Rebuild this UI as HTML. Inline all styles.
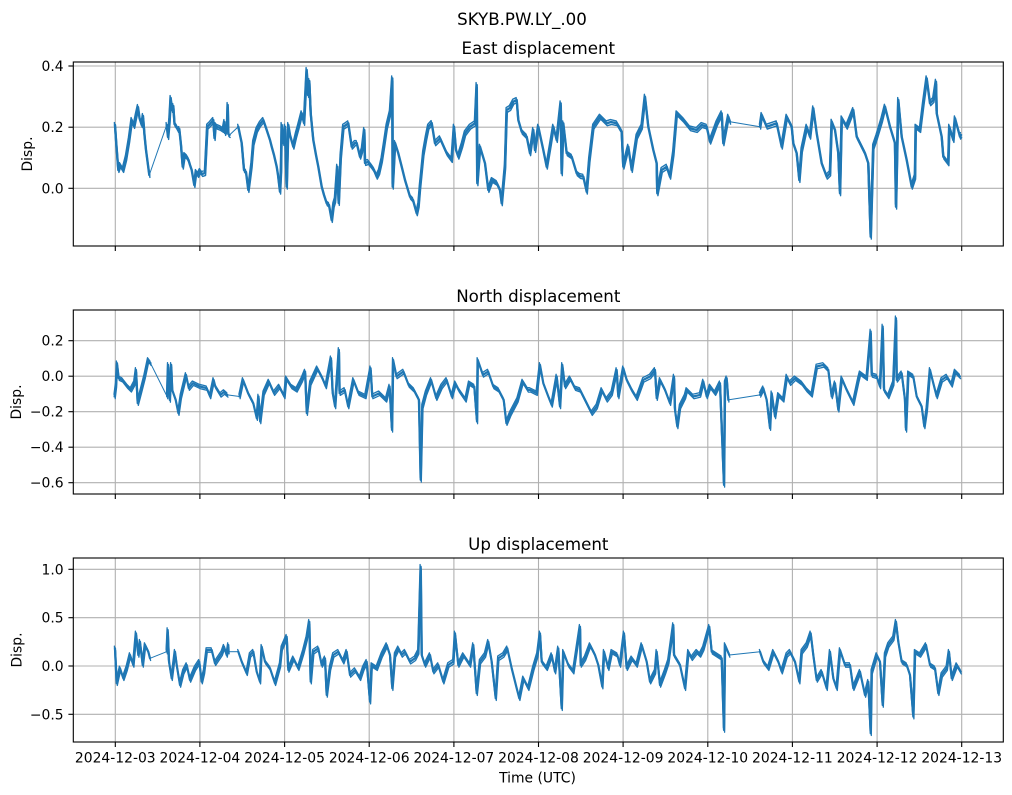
<!DOCTYPE html>
<html>
<head>
<meta charset="utf-8">
<style>
html,body{margin:0;padding:0;background:#fff;}
svg{display:block;}
text{font-family:"DejaVu Sans","Liberation Sans",sans-serif;fill:#000;}
.tk{font-size:13.9px;}
.ttl{font-size:16.67px;}
.grid line{stroke:#b0b0b0;stroke-width:1.1;}
.sp{fill:none;stroke:#000;stroke-width:1.1;}
.tick line{stroke:#000;stroke-width:1.1;}
.g{fill:none;stroke:#1f77b4;stroke-width:1;}
</style>
</head>
<body>
<svg width="1012" height="795" viewBox="0 0 1012 795" xmlns="http://www.w3.org/2000/svg" xmlns:xlink="http://www.w3.org/1999/xlink">
<defs>
<g id="n1" fill="none" stroke-linejoin="round" stroke-linecap="round">
<polyline points="115,125 116,140 118.3,170 120,165 123,170 126,158 129,140 131.7,120 134,126 136,116 138,107 139.5,118 141.7,125 143,116 144.5,135 146,150 149.3,175"/>
<polyline points="166.7,125 168,137 169.5,120 170.7,98 172,110 173.3,106 174.5,124 176.7,127 178,130 179.3,129 181,145 182.7,166.7 184.5,155 186.7,157 188.5,160 190,165 191.7,170 194.3,185 196,172 198,175 200,171 202,174 205,173 207.3,126.7 210,124 213.3,120 214.5,138 215.5,125 216.7,126.7 220,128 223,130 224.5,122 225,133 227,128 227.7,105 228.3,134 229.5,135"/>
<polyline points="238.3,126.7 240,135 241.7,143 244,170 246,172 248.3,190 250,177 251.5,165 253.3,143 256.7,130 260,124 263.3,120 266.7,130 270,140 271.7,146.7 274,155 276.7,166.7 278,175 280,191.7 281,170 281.7,125 283.3,143 285,126.7 286.7,186.7 288.3,125 290,135 293.3,146.7 296,135 298.3,126.7 301.7,113.3 304,123 306.7,70 308,95 309.3,81 310.7,113.3 313.3,140 316,155 318.3,166.7 321.7,186.7 324,195 326.7,203.3 329,205 331.7,220 333.5,205 335,200 337.3,166.7 338.7,203 340.7,156.7 343.3,126.7 346,125 348.3,123.3 351.7,146.7 355,143 356.7,143 360,156.7 362,150 364.3,130 365,163 368,162 371.7,166.7 374,170 376.7,176.7 379,172 381.7,160 384,145 386.7,126.7 390,113 392.3,78.3 392.7,186.7 395,143 398.3,153.3 401.7,166.7 405,180 410,196.7 413,200 416.7,213.3 418.5,205 420,186.7 423.3,153.3 426,138 428.3,126.7 431.7,123 435,143.3 440,138.3 443,145 446.7,153.3 451.7,160 454,126.7 456,150 458.3,156.7 462,145 465,133.3 470,126.7 475,123.3 476.7,85 477.3,183.3 480,146.7 485,163.3 488.3,190 492,180 496.7,183 500,190 501.7,203.3 505,166.7 506.7,110 510,108 513.3,101.7 516.7,100 518.3,120 521.7,131.7 526.7,136.7 530,153.3 533.3,130 535,150 538.3,126.7 543.3,150 546.7,166.7 550,147 553.3,126.7 556.7,140 560.7,103.3 561.7,173.3 563.3,123.3 566.7,153.3 571.7,156.7 576.7,173.3 580,176 583.3,176.7 586.7,191.7 589.3,160 593.3,126.7 600,116.7 606.7,123.3 611,122 616.7,123.3 621.7,131.7 623.3,166.7 628.3,146.7 631.7,170 636.7,136.7 641.7,126.7 645,96.7 648.3,126.7 653.3,150 656.7,163.3 657.3,193.3 661.7,170 666.7,166.7 670,176.7 673.3,153.3 676.7,113.3 683.3,120 690,128.3 696.7,130 701.7,125 706.7,126.7 710,141.7 716.7,123.3 721.7,113.3 723.3,143.3 728.3,116.7 730,121.7"/>
<polyline points="760,126.7 761.7,115 766.7,126.7 776.7,123.3 781.7,146.7 786.7,116.7 791.7,126.7 793.3,143.3 796.7,153.3 799.3,180 801.7,150 806.7,126.7 810,136.7 813.3,108.3 816.7,133.3 821.7,163.3 826.7,176.7 830,173.3 831.7,121.7 835,130 838.3,153.3 840,193.3 841.7,118.3 846.7,126.7 853.3,110 856.7,136.7 861.7,146.7 865,153.3 868.3,163.3 870.7,236.7 873.3,146.7 876.7,136.7 881.7,120 885,106.7 890,126.7 895,143.3 896,206.7 898.3,100 901.7,136.7 906.7,160 911.7,186.7 915,176.7 915.7,126.7 920,130 923.3,103.3 926.7,78.3 930,103.3 933.3,100 936,81.7 936.7,113.3 941.7,136.7 943.3,156.7 948.3,163.3 949.3,126.7 953.3,140 955,118.3 960,136.7 961,135"/>
</g>
<g id="n2" fill="none" stroke-linejoin="round" stroke-linecap="round">
<polyline points="114.6,396.5 116,385 117,363.2 118.7,378.2 122.2,379.9 127.4,386.5 130.8,389.9 134.3,383.2 136,369.9 137.7,403.2 141.2,389.9 144.6,376.5 148.1,359.9 150.5,363.2"/>
<polyline points="167.1,396.5 168.1,364.9 169.8,400 171.2,364.9 172.2,389.9 175.7,399.9 178.4,413.2 180.8,396.5 186,374.9 188.8,388.2 192.9,383.2 199.8,386.5 206.7,388.2 210.1,396.5 213.6,379.9 215.3,386.5 220.5,394.9 224,392 227.4,394.9"/>
<polyline points="239.5,396.5 243,379.9 248.1,393.2 253.3,403.2 256.8,418.2 258.5,396.5 260.2,421.5 263.6,393.2 268.8,381.5 274,393.2 279.2,386.5 284.4,396.5 286.1,378.2 291.3,386.5 296.5,389.9 301.7,379.9 305.1,371.5 306.8,413.2 310.3,383.2 317.2,368.2 322.4,378.2 325.8,386.5 331,358.2 332.7,393.2 335.1,406.5 338.9,349.9 339.6,393.2 344.7,389.9 348.2,406.5 353.4,379.9 358.5,393.2 365.4,396.5 370.6,368.2 372.3,396.5 379.2,393.2 386.1,399.9 389.6,386.5 392,429.9 393.1,359.9 396.5,376.5 403.4,371.5 408.6,384.9 413.8,389.9 419,399.9 420.7,479.9 422.4,406.5 425.9,393.2 431.1,379.9 436.3,398.2 441.5,386.5 446.6,379.9 451.8,396.5 455.3,383.2 458.7,389.9 465.6,399.9 469.1,383.2 474.3,386.5 477,421.5 477.7,359.9 482.9,374.9 488.1,371.5 493.3,386.5 498.5,389.9 503.7,399.9 506.4,423.2 510.5,413.2 517.5,399.9 522.6,381.5 527.8,389.9 530,389.9 536.7,393.2 540,364.9 543.3,383.2 548.3,396.5 551.7,404.9 556.7,376.5 560,406.5 562.3,364.9 565,386.5 570,378.2 575,388.2 580,389.9 585,399.9 591.7,413.2 596.7,406.5 601.7,389.9 606.7,399.9 611.7,393.2 616.7,369.9 618.3,396.5 623.3,368.2 626.7,379.9 631.7,389.9 636.7,398.2 643.3,379.9 650,376.5 655,369.9 656.7,398.2 660,379.9 665,389.9 670,403.2 674,376.5 675,409.9 677.3,426.5 680,406.5 685,396.5 686.7,389.9 693.3,396.5 700,394.9 703.3,381.5 706.7,396.5 710,386.5 715,393.2 720,383.2 724,484.9 725,383.2 726.7,378.2 728.3,399.9"/>
<polyline points="760,394.9 763.3,388.2 766.7,399.9 770,428.2 771.7,393.2 775,416.5 778.3,394.9 783.3,399.9 786.7,376.5 790,383.2 795,378.2 801.7,383.2 806.7,389.9 811.7,394.9 816.7,366.5 823.3,364.9 828.3,369.9 831.7,396.5 835,383.2 838.3,409.9 841.7,378.2 846.7,389.9 853.3,403.2 858.3,379.9 860,373.2 866.7,378.2 870.7,331.5 871.7,374.9 876.7,376.5 880,386.5 882.7,326.5 884,389.9 888.3,396.5 893.3,383.2 896,318.2 896.7,379.9 901.7,373.2 905,399.9 906,429.9 908.3,373.2 913.3,376.5 916.7,396.5 921.7,406.5 924.3,426.5 926.7,409.9 930,369.9 933.3,383.2 936.7,396.5 941.7,379.9 946.7,376.5 951.7,384.9 955,371.5 960,376.5"/>
</g>
<g id="n3" fill="none" stroke-linejoin="round" stroke-linecap="round">
<polyline points="115,648.3 116.7,683.3 120,668.3 123.3,678.3 126.7,668.3 130,655 133.3,665 136,633.3 138.3,655 140,641.7 142.7,665 145,645 148.3,651.7 150,658.3"/>
<polyline points="166.7,651.7 167.7,630 169,661.7 171.7,678.3 175,651.7 176.7,665 180,685 183.3,671.7 186.7,665 190,680 195,668.3 199.3,661.7 201.7,681.7 204,671.7 206.7,650 211.7,650 215,663.3 221.7,653.3 224,646.7 226.7,655 228.3,645 228.5,651.7"/>
<polyline points="238.3,651.7 241.7,661.7 246.7,673.3 250,655 253.3,651.7 256.7,671.7 260,681.7 261.7,646.7 265,661.7 270,668.3 275,683.3 280,665 281.7,648.3 286.7,636.7 288.3,670 293.3,658.3 298.3,668.3 303.3,651.7 306.7,638.3 309.3,621.7 310.7,681.7 313.3,651.7 318.3,648.3 321.7,665 325,658.3 326.7,695 330,668.3 333.3,655 338.3,651.7 343.3,661.7 346.7,651.7 350,675 355,670 360,678.3 363.3,668.3 366.7,661.7 370,701.7 371.7,665 376.7,668.3 381.7,655 386.7,645 390,655 392.3,688.3 395,655 398.3,648.3 401.7,655 405,651.7 410,661.7 415,658.3 418.3,651.7 420.7,566.7 421.7,655 425,665 430,655 433.3,671.7 438.3,665 443.3,681.7 448.3,665 453.3,661.7 455,633.3 458.3,665 463.3,655 470,665 473.3,645 476.7,693.3 480,661.7 485,655 488.3,641.7 491.7,661.7 495.7,698.3 498.3,658.3 503.3,655 507.3,648.3 511.7,668.3 516.7,688.3 519.3,698.3 523.3,678.3 528.3,688.3 530,681.7 533.3,668.3 537.3,655 540,633.3 541.7,661.7 546.7,668.3 551.7,655 555,671.7 558.3,648.3 561.7,708.3 563.3,651.7 568.3,665 573.3,671.7 580,626.7 580.7,665 585,658.3 590,645 595,655 598.3,665 602.3,686.7 604,651.7 608.3,668.3 611.7,651.7 617.3,655 620,665 624,633.3 626.7,668.3 631.7,658.3 636.7,665 641.7,645 646.7,661.7 650,681.7 655,671.7 656.7,651.7 660,685 665,671.7 668.3,661.7 673.3,625 674,655 680,665 685,688.3 688.3,651.7 691.7,658.3 696.7,651.7 700,655 703.3,648.3 709.3,626.7 711.7,651.7 716.7,655 721.7,658.3 724,730 725,645 729.3,655"/>
<polyline points="760,651.7 763.3,661.7 768.3,668.3 773.3,651.7 778.3,661.7 781.7,671.7 786.7,655 790,651.7 795,661.7 799.3,681.7 801.7,651.7 806.7,645 810.7,633.3 813.3,655 816.7,680 821.7,671.7 826.7,688.3 830,651.7 833.3,678.3 836.7,688.3 840,650 845,665 850,665 853.3,688.3 860,671.7 865,695 868.3,681.7 870.7,733.3 871.7,671.7 876.7,655 880,661.7 882.7,705 885,655 888.3,645 893.3,638.3 896,621.7 898.3,641.7 901.7,661.7 906.7,665 910,675 913.3,716.7 915,651.7 920,655 926,645 930,665 935,668.3 938.3,693.3 941.7,675 946.7,668.3 949,651.7 951.7,678.3 956.7,665 960.7,671.7"/>
</g>
</defs>
<rect x="0" y="0" width="1012" height="795" fill="#fff"/>

<!-- Suptitle -->
<text class="ttl" x="522" y="25" text-anchor="middle">SKYB.PW.LY_.00</text>

<!-- ================= Panel 1 ================= -->
<g class="grid">
  <line x1="115.3" y1="62" x2="115.3" y2="246"/><line x1="199.9" y1="62" x2="199.9" y2="246"/>
  <line x1="284.6" y1="62" x2="284.6" y2="246"/><line x1="369.2" y1="62" x2="369.2" y2="246"/>
  <line x1="453.9" y1="62" x2="453.9" y2="246"/><line x1="538.5" y1="62" x2="538.5" y2="246"/>
  <line x1="623.1" y1="62" x2="623.1" y2="246"/><line x1="707.8" y1="62" x2="707.8" y2="246"/>
  <line x1="792.4" y1="62" x2="792.4" y2="246"/><line x1="877.1" y1="62" x2="877.1" y2="246"/>
  <line x1="961.7" y1="62" x2="961.7" y2="246"/>
  <line x1="73.3" y1="66" x2="1003.3" y2="66"/>
  <line x1="73.3" y1="127.2" x2="1003.3" y2="127.2"/>
  <line x1="73.3" y1="188.3" x2="1003.3" y2="188.3"/>
</g>
<use xlink:href="#n1" href="#n1" stroke="#1f77b4" stroke-width="1.4" transform="translate(0.6,2.4)"/>
<use xlink:href="#n1" href="#n1" stroke="#1f77b4" stroke-width="1.4" transform="translate(-0.6,-2.4)"/>
<use xlink:href="#n1" href="#n1" stroke="#1f77b4" stroke-width="2.4"/>
<polyline class="g" points="149.3,175 166.7,125"/>
<polyline class="g" points="229.5,135 238.3,126.7"/>
<polyline class="g" points="730,121.7 760,126.7"/>
<rect class="sp" x="73.3" y="62" width="930" height="184"/>
<g class="tick">
  <line x1="115.3" y1="246" x2="115.3" y2="251"/><line x1="199.9" y1="246" x2="199.9" y2="251"/>
  <line x1="284.6" y1="246" x2="284.6" y2="251"/><line x1="369.2" y1="246" x2="369.2" y2="251"/>
  <line x1="453.9" y1="246" x2="453.9" y2="251"/><line x1="538.5" y1="246" x2="538.5" y2="251"/>
  <line x1="623.1" y1="246" x2="623.1" y2="251"/><line x1="707.8" y1="246" x2="707.8" y2="251"/>
  <line x1="792.4" y1="246" x2="792.4" y2="251"/><line x1="877.1" y1="246" x2="877.1" y2="251"/>
  <line x1="961.7" y1="246" x2="961.7" y2="251"/>
  <line x1="68.4" y1="66" x2="73.3" y2="66"/><line x1="68.4" y1="127.2" x2="73.3" y2="127.2"/><line x1="68.4" y1="188.3" x2="73.3" y2="188.3"/>
</g>
<text class="tk" x="63.6" y="71" text-anchor="end">0.4</text>
<text class="tk" x="63.6" y="132.2" text-anchor="end">0.2</text>
<text class="tk" x="63.6" y="193.3" text-anchor="end">0.0</text>
<text class="tk" transform="translate(31.8,154) rotate(-90)" text-anchor="middle">Disp.</text>
<text class="ttl" x="538.3" y="54" text-anchor="middle">East displacement</text>

<!-- ================= Panel 2 ================= -->
<g class="grid">
  <line x1="115.3" y1="310" x2="115.3" y2="494"/><line x1="199.9" y1="310" x2="199.9" y2="494"/>
  <line x1="284.6" y1="310" x2="284.6" y2="494"/><line x1="369.2" y1="310" x2="369.2" y2="494"/>
  <line x1="453.9" y1="310" x2="453.9" y2="494"/><line x1="538.5" y1="310" x2="538.5" y2="494"/>
  <line x1="623.1" y1="310" x2="623.1" y2="494"/><line x1="707.8" y1="310" x2="707.8" y2="494"/>
  <line x1="792.4" y1="310" x2="792.4" y2="494"/><line x1="877.1" y1="310" x2="877.1" y2="494"/>
  <line x1="961.7" y1="310" x2="961.7" y2="494"/>
  <line x1="73.3" y1="340.7" x2="1003.3" y2="340.7"/>
  <line x1="73.3" y1="376.2" x2="1003.3" y2="376.2"/>
  <line x1="73.3" y1="411.7" x2="1003.3" y2="411.7"/>
  <line x1="73.3" y1="447.2" x2="1003.3" y2="447.2"/>
  <line x1="73.3" y1="482.7" x2="1003.3" y2="482.7"/>
</g>
<use xlink:href="#n2" href="#n2" stroke="#1f77b4" stroke-width="1.3" transform="translate(0.6,2.2)"/>
<use xlink:href="#n2" href="#n2" stroke="#1f77b4" stroke-width="1.3" transform="translate(-0.6,-2.2)"/>
<use xlink:href="#n2" href="#n2" stroke="#1f77b4" stroke-width="2.2"/>
<polyline class="g" points="150.5,363.2 167.1,396.5"/>
<polyline class="g" points="227.4,394.9 239.5,396.5"/>
<polyline class="g" points="728.3,399.9 760,394.9"/>
<rect class="sp" x="73.3" y="310" width="930" height="184"/>
<g class="tick">
  <line x1="115.3" y1="494" x2="115.3" y2="499"/><line x1="199.9" y1="494" x2="199.9" y2="499"/>
  <line x1="284.6" y1="494" x2="284.6" y2="499"/><line x1="369.2" y1="494" x2="369.2" y2="499"/>
  <line x1="453.9" y1="494" x2="453.9" y2="499"/><line x1="538.5" y1="494" x2="538.5" y2="499"/>
  <line x1="623.1" y1="494" x2="623.1" y2="499"/><line x1="707.8" y1="494" x2="707.8" y2="499"/>
  <line x1="792.4" y1="494" x2="792.4" y2="499"/><line x1="877.1" y1="494" x2="877.1" y2="499"/>
  <line x1="961.7" y1="494" x2="961.7" y2="499"/>
  <line x1="68.4" y1="340.7" x2="73.3" y2="340.7"/><line x1="68.4" y1="376.2" x2="73.3" y2="376.2"/>
  <line x1="68.4" y1="411.7" x2="73.3" y2="411.7"/><line x1="68.4" y1="447.2" x2="73.3" y2="447.2"/>
  <line x1="68.4" y1="482.7" x2="73.3" y2="482.7"/>
</g>
<text class="tk" x="63.6" y="345.7" text-anchor="end">0.2</text>
<text class="tk" x="63.6" y="381.2" text-anchor="end">0.0</text>
<text class="tk" x="63.6" y="416.7" text-anchor="end">−0.2</text>
<text class="tk" x="63.6" y="452.2" text-anchor="end">−0.4</text>
<text class="tk" x="63.6" y="487.7" text-anchor="end">−0.6</text>
<text class="tk" transform="translate(20.8,402) rotate(-90)" text-anchor="middle">Disp.</text>
<text class="ttl" x="538.3" y="302" text-anchor="middle">North displacement</text>

<!-- ================= Panel 3 ================= -->
<g class="grid">
  <line x1="115.3" y1="558" x2="115.3" y2="742"/><line x1="199.9" y1="558" x2="199.9" y2="742"/>
  <line x1="284.6" y1="558" x2="284.6" y2="742"/><line x1="369.2" y1="558" x2="369.2" y2="742"/>
  <line x1="453.9" y1="558" x2="453.9" y2="742"/><line x1="538.5" y1="558" x2="538.5" y2="742"/>
  <line x1="623.1" y1="558" x2="623.1" y2="742"/><line x1="707.8" y1="558" x2="707.8" y2="742"/>
  <line x1="792.4" y1="558" x2="792.4" y2="742"/><line x1="877.1" y1="558" x2="877.1" y2="742"/>
  <line x1="961.7" y1="558" x2="961.7" y2="742"/>
  <line x1="73.3" y1="569.3" x2="1003.3" y2="569.3"/>
  <line x1="73.3" y1="617.7" x2="1003.3" y2="617.7"/>
  <line x1="73.3" y1="666" x2="1003.3" y2="666"/>
  <line x1="73.3" y1="714.3" x2="1003.3" y2="714.3"/>
</g>
<use xlink:href="#n3" href="#n3" stroke="#1f77b4" stroke-width="1.3" transform="translate(0.6,2.2)"/>
<use xlink:href="#n3" href="#n3" stroke="#1f77b4" stroke-width="1.3" transform="translate(-0.6,-2.2)"/>
<use xlink:href="#n3" href="#n3" stroke="#1f77b4" stroke-width="2.2"/>
<polyline class="g" points="150,658.3 166.7,651.7"/>
<polyline class="g" points="228.5,651.7 238.3,651.7"/>
<polyline class="g" points="729.3,655 760,651.7"/>
<rect class="sp" x="73.3" y="558" width="930" height="184"/>
<g class="tick">
  <line x1="115.3" y1="742" x2="115.3" y2="747"/><line x1="199.9" y1="742" x2="199.9" y2="747"/>
  <line x1="284.6" y1="742" x2="284.6" y2="747"/><line x1="369.2" y1="742" x2="369.2" y2="747"/>
  <line x1="453.9" y1="742" x2="453.9" y2="747"/><line x1="538.5" y1="742" x2="538.5" y2="747"/>
  <line x1="623.1" y1="742" x2="623.1" y2="747"/><line x1="707.8" y1="742" x2="707.8" y2="747"/>
  <line x1="792.4" y1="742" x2="792.4" y2="747"/><line x1="877.1" y1="742" x2="877.1" y2="747"/>
  <line x1="961.7" y1="742" x2="961.7" y2="747"/>
  <line x1="68.4" y1="569.3" x2="73.3" y2="569.3"/><line x1="68.4" y1="617.7" x2="73.3" y2="617.7"/>
  <line x1="68.4" y1="666" x2="73.3" y2="666"/><line x1="68.4" y1="714.3" x2="73.3" y2="714.3"/>
</g>
<text class="tk" x="63.6" y="574.3" text-anchor="end">1.0</text>
<text class="tk" x="63.6" y="622.7" text-anchor="end">0.5</text>
<text class="tk" x="63.6" y="671" text-anchor="end">0.0</text>
<text class="tk" x="63.6" y="719.3" text-anchor="end">−0.5</text>
<text class="tk" transform="translate(21.5,650) rotate(-90)" text-anchor="middle">Disp.</text>
<text class="ttl" x="538.3" y="550" text-anchor="middle">Up displacement</text>

<!-- X tick labels -->
<g class="tk" text-anchor="middle">
  <text x="115.3" y="762.5">2024-12-03</text>
  <text x="199.9" y="762.5">2024-12-04</text>
  <text x="284.6" y="762.5">2024-12-05</text>
  <text x="369.2" y="762.5">2024-12-06</text>
  <text x="453.9" y="762.5">2024-12-07</text>
  <text x="538.5" y="762.5">2024-12-08</text>
  <text x="623.1" y="762.5">2024-12-09</text>
  <text x="707.8" y="762.5">2024-12-10</text>
  <text x="792.4" y="762.5">2024-12-11</text>
  <text x="877.1" y="762.5">2024-12-12</text>
  <text x="961.7" y="762.5">2024-12-13</text>
</g>
<text class="tk" x="537.5" y="782.7" text-anchor="middle">Time (UTC)</text>
</svg>
</body>
</html>
